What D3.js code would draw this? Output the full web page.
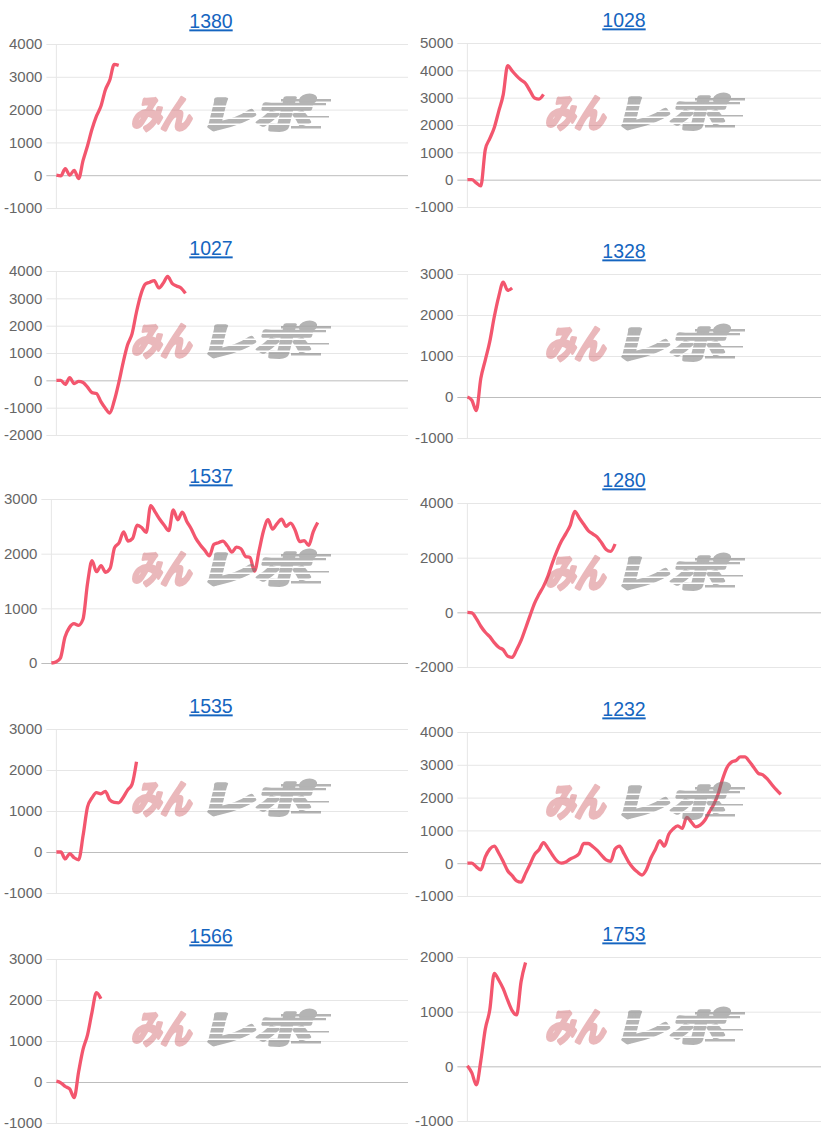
<!DOCTYPE html>
<html>
<head>
<meta charset="utf-8">
<script src="https://cdn.jsdelivr.net/npm/d3@7"></script>
<style>
body { margin: 0; background: #fff; }
</style>
</head>
<body>
<div class="graficos"></div>
<script>
// titulos de cada grafico (orden: izquierda, derecha, fila por fila)
var titles = ["1380", "1028", "1027", "1328", "1537", "1280", "1535", "1232", "1566", "1753"];

// valores de cada serie, un punto por juego
var s1380 = [0, -20, 200, 0, 150, -100, 450, 900, 1400, 1800, 2100, 2600, 2900, 3380, 3350];
var s1028 = [0, 0, -120, -230, 1100, 1500, 1900, 2500, 3100, 4170, 3980, 3800, 3650, 3520, 3250, 2990, 2950, 3120];
var s1027 = [0, 0, -150, 100, -120, -40, -80, -250, -450, -480, -780, -1020, -1200, -750, -100, 650, 1300, 1700, 2500, 3150,
             3520, 3590, 3650, 3380, 3550, 3800, 3550, 3450, 3380, 3180];
var s1328 = [0, -80, -330, 450, 900, 1350, 1950, 2450, 2800, 2600, 2660];
var s1537 = [0, 20, 90, 470, 650, 720, 690, 800, 1450, 1870, 1670, 1780, 1660, 1730, 2110, 2200, 2400, 2230, 2280, 2520,
             2480, 2390, 2880, 2760, 2630, 2520, 2420, 2800, 2620, 2760, 2590, 2450, 2280, 2160, 2060, 1960, 2170, 2200, 2230, 2140,
             2030, 2120, 2090, 1950, 1930, 1680, 2050, 2420, 2620, 2450, 2550, 2630, 2500, 2560, 2430, 2220, 2240, 2150, 2400, 2570];
var s1280 = [0, -20, -230, -510, -730, -890, -1110, -1280, -1370, -1600, -1650, -1370, -1030, -580, -120, 330, 660, 950, 1330, 1810,
             2240, 2600, 2880, 3190, 3690, 3450, 3220, 2990, 2870, 2750, 2540, 2300, 2230, 2500];
var s1535 = [0, 0, -170, -40, -140, -190, 400, 1100, 1320, 1450, 1420, 1480, 1270, 1210, 1200, 1330, 1510, 1650, 2200];
var s1232 = [0, 0, -110, -200, 190, 430, 520, 310, 50, -230, -380, -540, -580, -310, -30, 260, 410, 630, 460, 250,
             70, 0, 40, 130, 190, 300, 600, 600, 510, 390, 240, 100, 60, 430, 520, 290, 40, -140, -270, -360,
             -190, 160, 420, 690, 520, 880, 1050, 1140, 1060, 1400, 1260, 1110, 1160, 1300, 1550, 1780, 2100, 2560, 2920, 3080,
             3130, 3240, 3240, 3100, 2920, 2740, 2690, 2570, 2400, 2240, 2100];
var s1566 = [20, -20, -110, -170, -380, 250, 800, 1150, 1700, 2180, 2030];
var s1753 = [10, -120, -340, 100, 680, 1030, 1700, 1580, 1420, 1210, 1020, 940, 1550, 1900];

var series = [s1380, s1028, s1027, s1328, s1537, s1280, s1535, s1232, s1566, s1753];

// marcas del eje y de cada grafico
var yTicks = [
  [-1000, 0, 1000, 2000, 3000, 4000],
  [-1000, 0, 1000, 2000, 3000, 4000, 5000],
  [-2000, -1000, 0, 1000, 2000, 3000, 4000],
  [-1000, 0, 1000, 2000, 3000],
  [0, 1000, 2000, 3000],
  [-2000, 0, 2000, 4000],
  [-1000, 0, 1000, 2000, 3000],
  [-1000, 0, 1000, 2000, 3000, 4000],
  [-1000, 0, 1000, 2000, 3000],
  [-1000, 0, 1000, 2000]
];

var N = 80; // puntos del eje x
var w = 821, h = 1140;
var plotTops = [44, 43, 271, 274, 499, 503, 729, 732, 959, 957];
var plotH = 164;
var fuente = "'Liberation Sans', Arial, sans-serif";
var fuenteLogo = "'Noto Sans CJK JP', 'Noto Sans CJK SC', sans-serif";

var svg = d3.select(".graficos")
  .append("svg")
  .attr("width", w)
  .attr("height", h)
  .style("display", "block")
  .style("background", "#fff");

// mascara con rayas para la parte gris del logo
var mask = svg.append("defs").append("mask")
  .attr("id", "rayas")
  .attr("maskUnits", "userSpaceOnUse")
  .attr("maskContentUnits", "userSpaceOnUse")
  .attr("x", -10).attr("y", -10).attr("width", 230).attr("height", 60);
mask.append("rect").attr("x", -10).attr("y", -10).attr("width", 230).attr("height", 60).attr("fill", "#fff");
[7.5, 13.5, 19.5, 25.5].forEach(function(yy) {
  mask.append("rect").attr("x", 66).attr("y", yy).attr("width", 140).attr("height", 1.5).attr("fill", "#000");
});

var medir = svg.append("text").attr("font-size", 15).attr("font-family", fuente).style("visibility", "hidden");

titles.forEach(function(t, i) {
  var col = i % 2;
  var x0 = col * 410;
  var top = plotTops[i];
  var ticks = yTicks[i];

  var maxW = d3.max(ticks, function(d) { medir.text(String(d)); return medir.node().getComputedTextLength(); });
  var left = x0 + 5 + col + maxW + 13;
  var right = x0 + 408 + col * 3;

  var y = d3.scaleLinear().domain(d3.extent(ticks)).range([top + plotH, top]);
  var x = d3.scaleLinear().domain([0, N - 1]).range([left, right]);

  var g = svg.append("g");

  // eje y con lineas de cuadricula
  var axis = g.append("g")
    .attr("transform", "translate(" + (left - 10) + ",0)")
    .call(d3.axisLeft(y)
      .tickValues(ticks)
      .tickSize(-(right - left + 10))
      .tickPadding(4)
      .tickFormat(function(d) { return String(d); }));
  axis.select(".domain").remove();
  axis.selectAll(".tick line")
    .attr("stroke", function(d) { return d === 0 ? "#bdbdbd" : "#e6e6e6"; })
    .attr("stroke-width", 1);
  axis.selectAll(".tick text")
    .attr("fill", "#666")
    .attr("font-size", 15)
    .attr("font-family", fuente);

  g.append("line")
    .attr("x1", left).attr("x2", left)
    .attr("y1", y.range()[1]).attr("y2", y.range()[0])
    .attr("stroke", "#e6e6e6");

  // titulo
  g.append("text")
    .attr("x", x0 + 211 + col * 3)
    .attr("y", top - 15.6)
    .attr("text-anchor", "middle")
    .attr("font-size", 19.5)
    .attr("font-family", fuente)
    .attr("fill", "#1565c0")
    .style("text-decoration", "underline")
    .text(t);

  // linea de la serie
  g.append("path")
    .datum(series[i])
    .attr("fill", "none")
    .attr("stroke", "#f3566e")
    .attr("stroke-width", 3.3)
    .attr("stroke-linejoin", "round")
    .attr("d", d3.line()
      .x(function(d, k) { return x(k); })
      .y(function(d) { return y(d); })
      .curve(d3.curveMonotoneX));

  // logo de marca de agua
  var logo = g.append("g")
    .attr("transform", "translate(" + (x0 + 131 + col * 4) + "," + (top + 54) + ")");
  logo.append("text")
    .attr("x", 0).attr("y", 30)
    .attr("transform", "skewX(-14) translate(7,0)")
    .attr("font-family", fuenteLogo)
    .attr("font-weight", "bold")
    .attr("font-size", 38)
    .attr("textLength", 60)
    .attr("lengthAdjust", "spacingAndGlyphs")
    .attr("fill", "#c9474f")
    .attr("stroke", "#c9474f")
    .attr("stroke-width", 3.5)
    .attr("stroke-linejoin", "round")
    .attr("opacity", 0.38)
    .text("みん");
  var gris = logo.append("g").attr("mask", "url(#rayas)").attr("opacity", 0.55);
  gris.append("text")
    .attr("x", 68).attr("y", 30)
    .attr("transform", "skewX(-14) translate(7,0)")
    .attr("font-family", fuenteLogo)
    .attr("font-weight", "bold")
    .attr("font-size", 38)
    .attr("textLength", 112)
    .attr("lengthAdjust", "spacingAndGlyphs")
    .attr("fill", "#777")
    .attr("stroke", "#777")
    .attr("stroke-width", 3.5)
    .attr("stroke-linejoin", "round")
    .text("レポ");
  [[150, 1, 50], [165, 5, 30], [172, 18, 26], [160, 28, 30]].forEach(function(b) {
    gris.append("rect")
      .attr("x", b[0]).attr("y", b[1]).attr("width", b[2]).attr("height", 2.5)
      .attr("fill", "#777");
  });
});

medir.remove();
</script>
</body>
</html>
